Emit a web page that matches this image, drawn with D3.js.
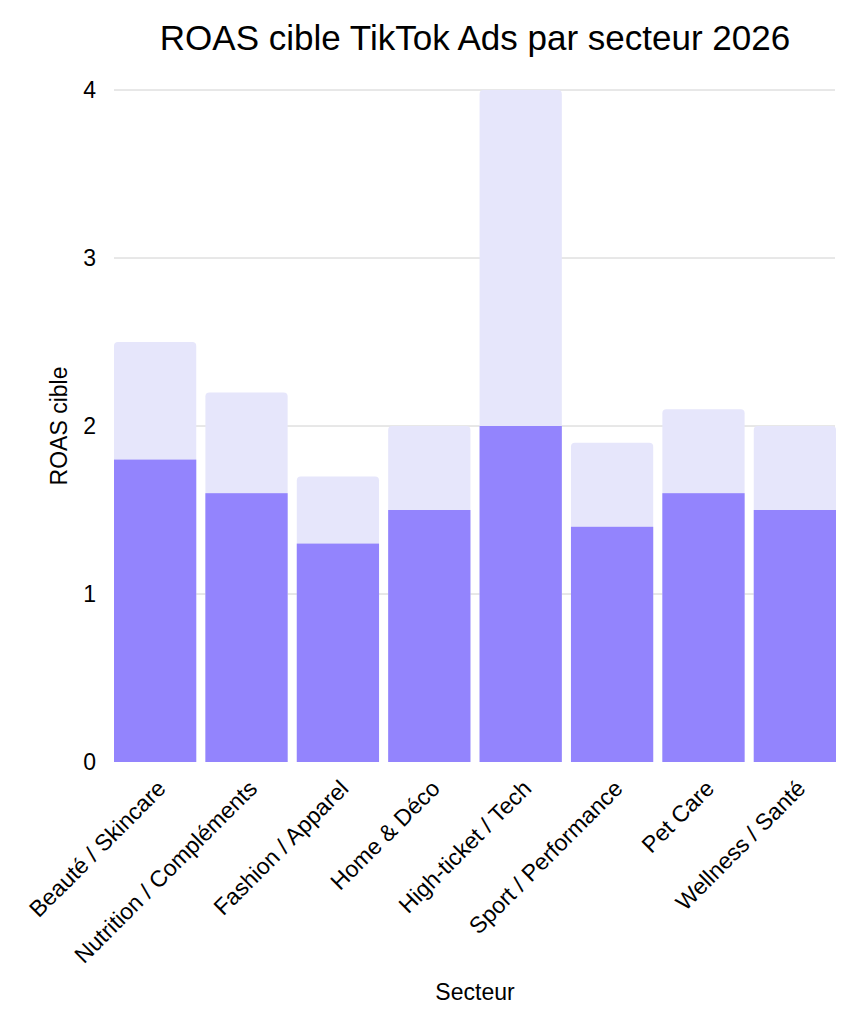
<!DOCTYPE html>
<html><head><meta charset="utf-8">
<script src="https://cdn.jsdelivr.net/npm/d3@7"></script>
<style>
html,body{margin:0;padding:0;background:#fff;}
text{font-family:"Liberation Sans",Arial,Helvetica,sans-serif;fill:#000;}
</style></head>
<body><svg id="c" width="863" height="1028"></svg>
<script>
const categories = ["Beauté / Skincare","Nutrition / Compléments","Fashion / Apparel","Home & Déco","High-ticket / Tech","Sport / Performance","Pet Care","Wellness / Santé"];
const roasMin = [1.8,1.6,1.3,1.5,2.0,1.4,1.6,1.5];
const roasMax = [2.5,2.2,1.7,2.0,4.0,1.9,2.1,2.0];
const yTicks = [0,1,2,3,4];

const svg = d3.select("#c");
const L=114, R=836, T=90, B=762;
const x = d3.scaleBand().domain(categories).range([L,R]).paddingInner(0.1).paddingOuter(0);
const y = d3.scaleLinear().domain([0,4]).range([B,T]);

// grid
svg.append("g").selectAll("line").data(yTicks.filter(d=>d>0)).join("line")
  .attr("x1",L).attr("x2",R-1).attr("y1",d=>y(d)).attr("y2",d=>y(d))
  .attr("stroke","#d0d0d0").attr("stroke-width",1);

const rr = 4;
const g = svg.append("g");
categories.forEach((c,i)=>{
  const x0 = x(c), w = x.bandwidth(), yt = y(roasMax[i]), yb = y(0);
  g.append("path").attr("fill","#e6e6fb")
    .attr("d",`M${x0},${yb}V${yt+rr}Q${x0},${yt} ${x0+rr},${yt}H${x0+w-rr}Q${x0+w},${yt} ${x0+w},${yt+rr}V${yb}Z`);
  g.append("rect").attr("fill","#9384fd")
    .attr("x",x0).attr("width",w).attr("y",y(roasMin[i])).attr("height",yb-y(roasMin[i]));
});

// y tick labels
svg.append("g").selectAll("text").data(yTicks).join("text")
  .attr("x",96).attr("y",d=>y(d)).attr("dy","0.35em").attr("text-anchor","end")
  .style("font-size","23px").text(d=>d);

// x labels
svg.append("g").selectAll("text").data(categories).join("text")
  .attr("text-anchor","end").style("font-size","23px")
  .attr("transform",d=>`translate(${x(d)+x.bandwidth()/2+12},${B+28}) rotate(-45)`)
  .text(d=>d);

// axis titles
svg.append("text").attr("x",(L+R)/2).attr("y",1000).attr("text-anchor","middle")
  .style("font-size","23px").text("Secteur");
svg.append("text").attr("transform",`translate(67,${(T+B)/2}) rotate(-90)`).attr("text-anchor","middle")
  .style("font-size","23px").text("ROAS cible");
svg.append("text").attr("x",(L+R)/2).attr("y",50).attr("text-anchor","middle")
  .style("font-size","35px").text("ROAS cible TikTok Ads par secteur 2026");
</script></body></html>
